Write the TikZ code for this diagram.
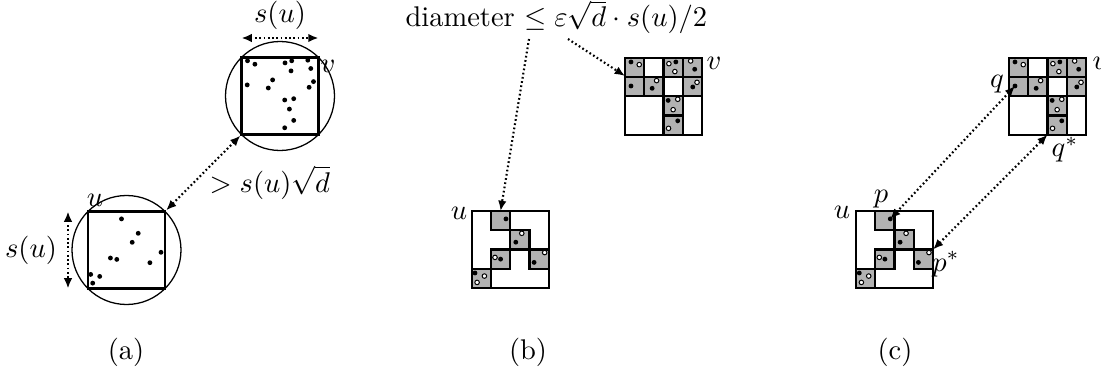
\documentclass[tikz,border=0pt]{standalone}
\usetikzlibrary{arrows.meta}
\def\px{0.351pt}
\newcommand\UGrid{%
  \draw[gridsq] (0,0) rectangle (4,4);
  \foreach \c/\r in {1/0,2/1,1/2,3/2,0/3} \draw[cellbox] (\c,\r) rectangle ++(1,1);
  \foreach \x/\y in {1.78/0.41,2.29/1.62,1.5/2.5,3.24/2.67,0.17/3.22} \fill (\x,\y) circle (0.85pt);
  \foreach \x/\y in {2.6/1.16,1.21/2.41,3.79/2.16,0.66/3.38,0.28/3.71} \filldraw[wdot] (\x,\y) circle (0.8pt);
}
\newcommand\VGrid{%
  \draw[gridsq] (0,0) rectangle (4,4);
  \foreach \c/\r in {0/0,2/0,3/0,0/1,1/1,3/1,2/2,2/3} \draw[cellbox] (\c,\r) rectangle ++(1,1);
  \foreach \x/\y in {0.31/0.22,2.64/0.22,3.62/0.6,0.31/1.47,1.41/1.59,3.52/1.52,2.24/2.22,2.74/3.28} \fill (\x,\y) circle (0.85pt);
  \foreach \x/\y in {0.74/0.36,2.28/0.31,2.59/0.72,3.41/0.17,1.64/1.19,3.74/1.28,2.74/2.16,2.5/2.7,2.26/3.67} \filldraw[wdot] (\x,\y) circle (0.8pt);
}
\begin{document}
\begin{tikzpicture}[x=0.351pt,y=-0.351pt,
  sq/.style={draw, line width=0.8pt, inner sep=0pt, minimum size=77*\px},
  cir/.style={draw, circle, line width=0.45pt, inner sep=0pt, minimum size=109*\px},
  gridsq/.style={draw, line width=0.8pt},
  cellbox/.style={fill=black!30, draw, line width=0.75pt},
  wdot/.style={fill=white, draw=black, line width=0.35pt},
  dt/.style={line width=0.75pt, dash pattern=on 0.6pt off 0.9pt},
  darr/.style={dt, {Latex[length=3.6pt,width=3pt]}-{Latex[length=3.6pt,width=3pt]}},
  sarr/.style={dt, -{Latex[length=3.6pt,width=3pt]}},
  lbl/.style={inner sep=0pt, anchor=base}]
\useasboundingbox (0,0) rectangle (1101,377);

% ---------- (a) ----------
\node[cir] (uc) at (126.5,250) {};
\node[sq] (ua) at (126.5,250) {};
\node[cir] (vc) at (280,96) {};
\node[sq] (va) at (280,96) {};
\begin{scope}[shift={(88,211.5)}, x=77*\px, y=-77*\px]
  \foreach \x/\y in {0.435/0.096,0.652/0.283,0.574/0.4,0.948/0.53,0.291/0.604,0.374/0.622,0.804/0.665,0.035/0.817,0.152/0.843,0.061/0.93}
    \fill (\x,\y) circle (0.85pt);
\end{scope}
\begin{scope}[shift={(241.5,57.5)}, x=77*\px, y=-77*\px]
  \foreach \x/\y in {0.078/0.043,0.174/0.087,0.565/0.07,0.652/0.043,0.861/0.035,0.643/0.174,0.9/0.143,0.074/0.356,0.404/0.291,0.348/0.396,0.935/0.313,0.878/0.387,0.561/0.552,0.678/0.535,0.622/0.67,0.678/0.817,0.561/0.913}
    \fill (\x,\y) circle (0.85pt);
\end{scope}
\draw[darr] (ua.north east) -- (va.south west);
\coordinate (sl1) at (68,211.5);
\coordinate (sl2) at (68,288.5);
\draw[darr] (sl1) -- (sl2);
\coordinate (st1) at (241.5,38);
\coordinate (st2) at (318.5,38);
\draw[darr] (st1) -- (st2);
\node[lbl] (lsl) at (31,257) {$s(u)$};
\node[lbl] (lst) at (280,23) {$s(u)$};
\node[lbl, anchor=base west] (ldist) at (209,192) {$> s(u)\sqrt{d}$};
\node[lbl] (lua) at (95,207) {$u$};
\node[lbl] (lva) at (328,73) {$v$};
\node (capa) at (126,352) {(a)};

% ---------- (b) ----------
\begin{scope}[shift={(471.7,211)}, x=19.25*\px, y=-19.25*\px]
  \UGrid
  \coordinate (bu) at (1.5,0);
\end{scope}
\begin{scope}[shift={(625,57.7)}, x=19.25*\px, y=-19.25*\px]
  \VGrid
  \coordinate (bv) at (0,0.95);
\end{scope}
\node[lbl, anchor=base west] (diam) at (405,27) {diameter $\leq \varepsilon\sqrt{d}\cdot s(u)/2$};
\coordinate (bt1) at (529,39);
\coordinate (bt2) at (568,39);
\draw[sarr] (bt1) -- (bu);
\draw[sarr] (bt2) -- (bv);
\node[lbl] (lub) at (459,220) {$u$};
\node[lbl] (lvb) at (714,70) {$v$};
\node (capb) at (528,352) {(b)};

% ---------- (c) ----------
\begin{scope}[shift={(856,211)}, x=19.25*\px, y=-19.25*\px]
  \UGrid
  \coordinate (p) at (1.78,0.41);
  \coordinate (ps) at (4,2);
\end{scope}
\begin{scope}[shift={(1009,57.7)}, x=19.25*\px, y=-19.25*\px]
  \VGrid
  \coordinate (q) at (0.31,1.47);
  \coordinate (qs) at (2,4);
\end{scope}
\draw[darr] (p) -- (q);
\draw[darr] (ps) -- (qs);
\node[lbl] (luc) at (842,219) {$u$};
\node[lbl] (lvc) at (1100,70) {$v$};
\node[lbl] (lp) at (881,202) {$p$};
\node[lbl] (lps) at (946,271) {$p^*$};
\node[lbl] (lq) at (997,88) {$q$};
\node[lbl] (lqs) at (1065,157) {$q^*$};
\node (capc) at (895,352) {(c)};
\end{tikzpicture}
\end{document}
